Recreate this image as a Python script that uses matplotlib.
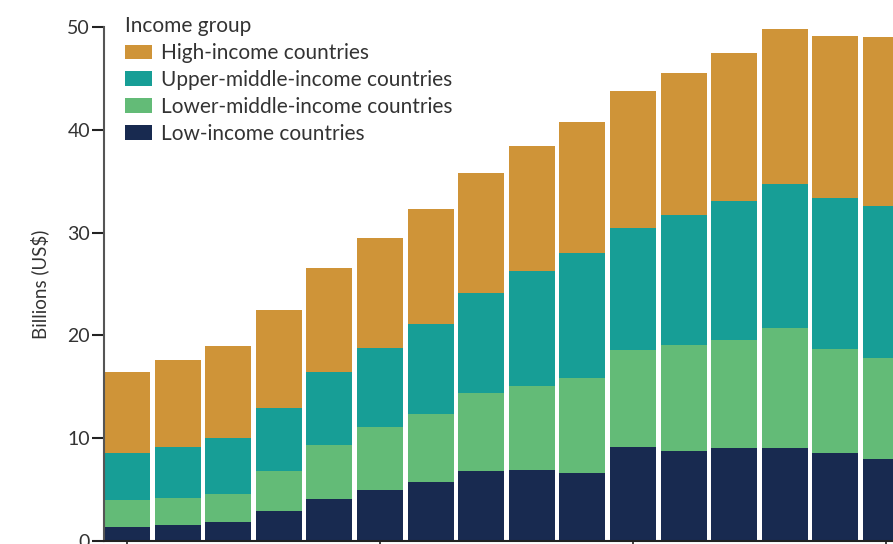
import matplotlib.pyplot as plt
import numpy as np

# Values (billions US$), stacked from bottom up
years = list(range(2000, 2016))
low = [1.4, 1.6, 1.85, 2.9, 4.1, 5.0, 5.7, 6.8, 6.9, 6.6, 9.1, 8.8, 9.0, 9.05, 8.6, 8.0]
lower_middle_top = [4.0, 4.2, 4.6, 6.8, 9.3, 11.1, 12.4, 14.4, 15.1, 15.9, 18.6, 19.1, 19.6, 20.7, 18.7, 17.8]
upper_middle_top = [8.6, 9.1, 10.0, 12.9, 16.4, 18.8, 21.1, 24.1, 26.3, 28.0, 30.4, 31.7, 33.1, 34.7, 33.4, 32.6]
total = [16.4, 17.6, 19.0, 22.5, 26.6, 29.5, 32.3, 35.8, 38.4, 40.8, 43.8, 45.5, 47.5, 49.8, 49.1, 49.0]

lower_middle = np.array(lower_middle_top) - np.array(low)
upper_middle = np.array(upper_middle_top) - np.array(lower_middle_top)
high = np.array(total) - np.array(upper_middle_top)

colors = {
    "High-income countries": "#CF9438",
    "Upper-middle-income countries": "#179E96",
    "Lower-middle-income countries": "#63BB77",
    "Low-income countries": "#182A50",
}

plt.rcParams['font.family'] = ['Lato', 'DejaVu Sans']

fig = plt.figure(figsize=(8.93, 5.44), dpi=100)
# axes run past the right and bottom edges, as in the cropped reference
ax = fig.add_axes([104 / 893, 3 / 544, 1 - 104 / 893, (541 - 27) / 544])

x = np.arange(len(years))
w = 0.91
ax.bar(x, low, w, color=colors["Low-income countries"], label="Low-income countries")
ax.bar(x, lower_middle, w, bottom=low, color=colors["Lower-middle-income countries"],
       label="Lower-middle-income countries")
ax.bar(x, upper_middle, w, bottom=lower_middle_top, color=colors["Upper-middle-income countries"],
       label="Upper-middle-income countries")
ax.bar(x, high, w, bottom=upper_middle_top, color=colors["High-income countries"],
       label="High-income countries")

ax.set_xlim(-0.455, 15.14)
ax.set_ylim(0, 50)
ax.set_yticks([0, 10, 20, 30, 40, 50])
ax.set_xticks([0, 5, 10, 15])
ax.set_xticklabels([years[i] for i in [0, 5, 10, 15]])

for s in ['top', 'right']:
    ax.spines[s].set_visible(False)
ax.spines['left'].set_color('#555555')
ax.spines['left'].set_linewidth(1.5)
ax.spines['bottom'].set_color('#222222')
ax.spines['bottom'].set_linewidth(1.5)
ax.tick_params(axis='y', length=9, width=1.5, color='#222222', labelsize=14, labelcolor='#333333', pad=1)
ax.tick_params(axis='x', length=8, width=1.2, color='#222222', labelsize=14, labelcolor='#333333')

ax.set_ylabel("Billions (US$)", fontsize=13.5, color='#333333', labelpad=13)

handles, labels = ax.get_legend_handles_labels()
leg = ax.legend(handles[::-1], labels[::-1], title="Income group", loc='upper left',
                bbox_to_anchor=(0.016, 1.037), frameon=False, fontsize=15, title_fontsize=15,
                handlelength=1.3, handleheight=0.7, handletextpad=0.45, labelspacing=0.33,
                borderaxespad=0)
leg._legend_box.align = "left"
for t in leg.get_texts():
    t.set_color('#333333')
leg.get_title().set_color('#333333')

fig.savefig("out.png", dpi=100)
